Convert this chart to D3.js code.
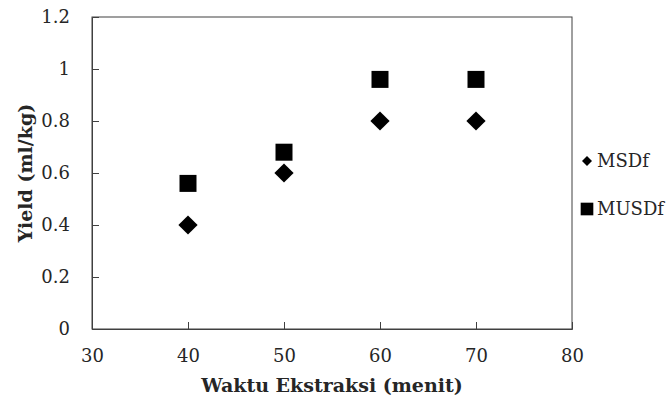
<!DOCTYPE html>
<html>
<head>
<meta charset="utf-8">
<script src="https://cdn.jsdelivr.net/npm/d3@7"></script>
<style>
  body { margin: 0; background: #fff; }
  svg text { font-family: "DejaVu Serif", serif; fill: #262626; }
</style>
</head>
<body>
<div id="chart"></div>
<script>
const waktu = [40, 50, 60, 70];
const msdf = [0.4, 0.6, 0.8, 0.8];
const musdf = [0.56, 0.68, 0.96, 0.96];
const xTicks = [30, 40, 50, 60, 70, 80];
const yTicks = [0, 0.2, 0.4, 0.6, 0.8, 1, 1.2];
const seriesNames = ['MSDf', 'MUSDf'];

const W = 669, H = 402;
const margin = { top: 17, right: 97, bottom: 73, left: 92 };
const iw = W - margin.left - margin.right;
const ih = H - margin.top - margin.bottom;
const axisColor = '#404040';

let svg = d3.select('#chart').append('svg')
  .attr('width', W)
  .attr('height', H);

let g = svg.append('g')
  .attr('transform', `translate(${margin.left},${margin.top})`);

let x = d3.scaleLinear().domain([30, 80]).range([0, iw]);
let y = d3.scaleLinear().domain([0, 1.2]).range([ih, 0]);

// frame
g.append('rect')
  .attr('width', iw)
  .attr('height', ih)
  .attr('fill', 'none')
  .attr('stroke', axisColor)
  .attr('stroke-width', 1);

// x axis, ticks point inward
let xAxis = g.append('g')
  .attr('transform', `translate(0,${ih})`)
  .call(d3.axisBottom(x).tickValues(xTicks).tickSize(-7).tickPadding(20).tickFormat(d3.format('d')));

// y axis
let yAxis = g.append('g')
  .call(d3.axisLeft(y).tickValues(yTicks).tickSize(-7).tickPadding(22).tickFormat(d => d3.format('~g')(d)));

[xAxis, yAxis].forEach(ax => {
  ax.select('.domain').attr('stroke', axisColor);
  ax.selectAll('.tick line').attr('stroke', axisColor);
  ax.selectAll('.tick text')
    .attr('font-size', 18)
    .attr('font-family', '"DejaVu Serif", serif')
    .attr('fill', '#262626');
});
// hide end ticks that sit on the frame corners
xAxis.selectAll('.tick line').filter(d => d === 30 || d === 80).remove();
yAxis.selectAll('.tick line').filter(d => d === 0 || d === 1.2).remove();

// MSDf diamonds
let diamond = d3.symbol().type(d3.symbolSquare).size(185);
g.append('g').selectAll('path')
  .data(waktu.map((w, i) => ({ w, v: msdf[i] })))
  .join('path')
  .attr('d', diamond())
  .attr('transform', d => `translate(${x(d.w)},${y(d.v)}) rotate(45)`)
  .attr('fill', '#000');

// MUSDf squares
let square = d3.symbol().type(d3.symbolSquare).size(289);
g.append('g').selectAll('path')
  .data(waktu.map((w, i) => ({ w, v: musdf[i] })))
  .join('path')
  .attr('d', square())
  .attr('transform', d => `translate(${x(d.w)},${y(d.v)})`)
  .attr('fill', '#000');

// axis titles
svg.append('text')
  .attr('x', margin.left + iw / 2)
  .attr('y', 392)
  .attr('text-anchor', 'middle')
  .attr('font-size', 19)
  .attr('font-weight', 'bold')
  .attr('fill', '#000')
  .text('Waktu Ekstraksi (menit)');

svg.append('text')
  .attr('transform', `translate(32,${margin.top + ih / 2}) rotate(-90)`)
  .attr('text-anchor', 'middle')
  .attr('font-size', 19)
  .attr('font-weight', 'bold')
  .attr('fill', '#000')
  .text('Yield (ml/kg)');

// legend
let legend = svg.append('g').attr('transform', 'translate(587,0)');
let legendRows = legend.selectAll('g')
  .data(seriesNames)
  .join('g')
  .attr('transform', (d, i) => `translate(0,${161 + i * 48})`);

legendRows.append('path')
  .attr('d', (d, i) => i === 0
    ? d3.symbol().type(d3.symbolSquare).size(50)()
    : d3.symbol().type(d3.symbolSquare).size(160)())
  .attr('transform', (d, i) => i === 0 ? 'rotate(45)' : null)
  .attr('fill', '#000');

legendRows.append('text')
  .attr('x', 10)
  .attr('dy', '0.35em')
  .attr('font-size', 18)
  .attr('fill', '#262626')
  .text(d => d);
</script>
</body>
</html>
